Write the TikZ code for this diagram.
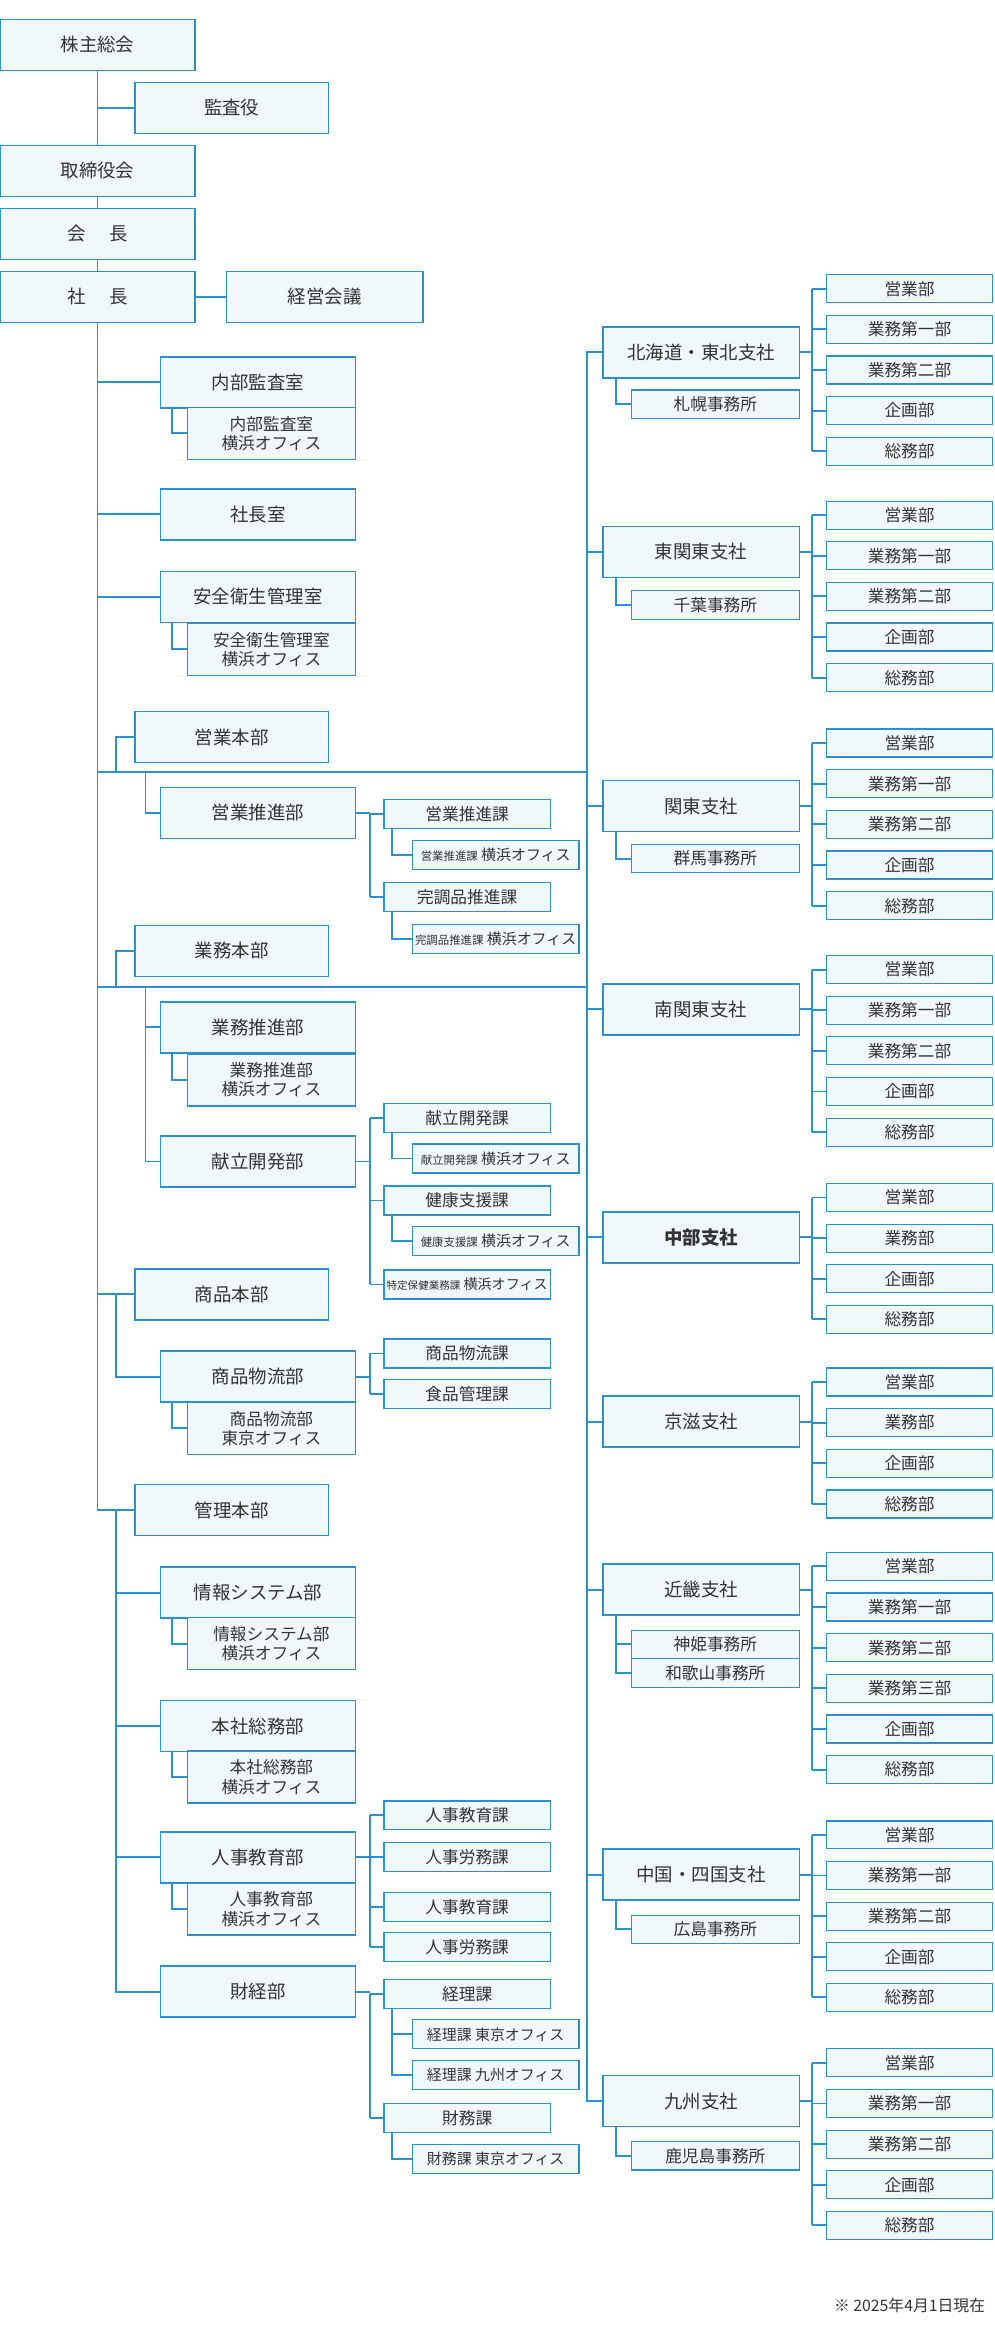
\documentclass[tikz,border=0pt]{standalone}
\usepackage{fontspec}
\setmainfont{Noto Sans CJK JP}
\definecolor{orgline}{HTML}{2B90D0}
\definecolor{orgfill}{HTML}{F1F8FC}
\definecolor{orgtext}{HTML}{333333}
\tikzset{
  box/.style={draw=orgline, fill=orgfill, line width=0.9pt, text=orgtext, inner sep=0pt, align=center, font=\fontsize{10.5}{12}\selectfont},
  top/.style={box, minimum width=3.9cm, minimum height=1.02cm},
  hq/.style={box, minimum width=3.87cm, minimum height=1.02cm},
  dep/.style={box, minimum width=3.9cm, minimum height=1.02cm},
  depsub/.style={box, minimum width=3.36cm, minimum height=1.04cm, font=\fontsize{9.5}{11}\selectfont},
  sect/.style={box, line width=0.7pt, minimum width=3.33cm, minimum height=0.58cm, font=\fontsize{9.5}{11}\selectfont},
  sectsub/.style={sect, font=\fontsize{8.5}{10}\selectfont},
  branch/.style={box, minimum width=3.93cm, minimum height=1.02cm},
  broffice/.style={box, line width=0.7pt, minimum width=3.36cm, minimum height=0.57cm, font=\fontsize{9.5}{11}\selectfont},
  dept/.style={box, line width=0.7pt, minimum width=3.33cm, minimum height=0.56cm, font=\fontsize{9.5}{11}\selectfont},
  conn/.style={draw=orgline, line width=1.1pt},
}
\newcommand{\smalltxt}{\fontsize{6.5}{8}\selectfont}
\newcommand{\deptlist}[4]{% branch name, first top, count, list
  \foreach \d [count=\i] in {#4} {
    \node[dept] (#1\i) at (606.5,{#2+9.5+(\i-1)*27.1}) {\d};
  }
  \draw[conn] (#1.east) -- ++(8,0) coordinate (#1j);
  \draw[conn] (#11.west -| #1j) -- (#1#3.west -| #1j);
  \foreach \i in {1,...,#3} {
    \draw[conn] (#1\i.west -| #1j) -- (#1\i.west);
  }
}
\begin{document}
\begin{tikzpicture}[x=0.03cm, y=-0.03cm]
\useasboundingbox (0,0) rectangle (663,1567);

% top of the company
\node[top] (kabu) at (65,30) {株主総会};
\node[hq] (kansa) at (154.5,72) {監査役};
\node[top] (torishimari) at (65,114) {取締役会};
\node[top] (kaicho) at (65,156) {会\hspace{1.3em}長};
\node[top] (shacho) at (65,198) {社\hspace{1.3em}長};
\node[branch] (keiei) at (216.5,198) {経営会議};
\draw[conn] (kabu) -- (torishimari);
\draw[conn] (kansa.west) -- (kansa.west -| kabu.south);
\draw[conn] (torishimari) -- (kaicho);
\draw[conn] (kaicho) -- (shacho);
\draw[conn] (shacho) -- (keiei);

% left side
\node[dep] (naibu) at (172,255) {内部監査室};
\node[depsub] (naibusub) at (181,289) {内部監査室\\横浜オフィス};
\node[dep] (shachoshitsu) at (172,343) {社長室};
\node[dep] (anzen) at (172,398) {安全衛生管理室};
\node[depsub] (anzensub) at (181,433) {安全衛生管理室\\横浜オフィス};
\node[hq] (eigyohq) at (154.5,491.5) {営業本部};
\node[dep] (eigyosuishin) at (172,542) {営業推進部};
\node[hq] (gyomuhq) at (154.5,634) {業務本部};
\node[dep] (gyomusuishin) at (172,685) {業務推進部};
\node[depsub] (gyomusub) at (181,720) {業務推進部\\横浜オフィス};
\node[dep] (kondate) at (172,774.5) {献立開発部};
\node[hq] (shohinhq) at (154.5,863) {商品本部};
\node[dep] (butsuryu) at (172,918) {商品物流部};
\node[depsub] (butsuryusub) at (181,952.5) {商品物流部\\東京オフィス};
\node[hq] (kanrihq) at (154.5,1007) {管理本部};
\node[dep] (joho) at (172,1062) {情報システム部};
\node[depsub] (johosub) at (181,1096) {情報システム部\\横浜オフィス};
\node[dep] (somu) at (172,1151) {本社総務部};
\node[depsub] (somusub) at (181,1185) {本社総務部\\横浜オフィス};
\node[dep] (jinji) at (172,1238.5) {人事教育部};
\node[depsub] (jinjisub) at (181,1273) {人事教育部\\横浜オフィス};
\node[dep] (zaikei) at (172,1328) {財経部};

\draw[conn] (shacho.south) -- (kanrihq.west -| shacho.south) -- (kanrihq.west);
\foreach \n in {naibu, shachoshitsu, anzen, shohinhq}
  \draw[conn] (\n.west) -- (\n.west -| shacho.south);
\foreach \p/\s in {naibu/naibusub, anzen/anzensub, gyomusuishin/gyomusub, butsuryu/butsuryusub, joho/johosub, somu/somusub, jinji/jinjisub}
  \draw[conn] (\p.south west) ++(8,0) |- (\s.west);

% sales and operations lines
\coordinate (hza) at (65,515);
\coordinate (hzb) at (65,658);
\draw[conn] (eigyohq.west) -- ++(-12,0) |- (hza);
\draw[conn] (gyomuhq.west) -- ++(-12,0) |- (hzb);
\draw[conn] (hza) ++(32,0) |- (eigyosuishin.west);
\draw[conn] (hzb) ++(32,0) |- (kondate.west);
\draw[conn] (gyomusuishin.west) -- ++(-10,0);
\draw[conn] (shohinhq.west) -- ++(-12,0) |- (butsuryu.west);
\draw[conn] (kanrihq.west) -- ++(-12,0) |- (zaikei.west);
\foreach \n in {joho, somu, jinji}
  \draw[conn] (\n.west) -- ++(-29,0);

% sections
\node[sect] (ka1) at (311.5,543) {営業推進課};
\node[sectsub] (ka1s) at (330.5,570) {{\smalltxt 営業推進課} 横浜オフィス};
\node[sect] (ka2) at (311.5,598) {完調品推進課};
\node[sectsub] (ka2s) at (330.5,626) {{\smalltxt 完調品推進課} 横浜オフィス};
\node[sect] (ka3) at (311.5,745.5) {献立開発課};
\node[sectsub] (ka3s) at (330.5,772.5) {{\smalltxt 献立開発課} 横浜オフィス};
\node[sect] (ka4) at (311.5,800.5) {健康支援課};
\node[sectsub] (ka4s) at (330.5,827.5) {{\smalltxt 健康支援課} 横浜オフィス};
\node[sect, font=\fontsize{8}{10}\selectfont] (ka5) at (311.5,856.5) {{\fontsize{6}{8}\selectfont 特定保健業務課} 横浜オフィス};
\node[sect] (ka6) at (311.5,902.5) {商品物流課};
\node[sect] (ka7) at (311.5,929.5) {食品管理課};
\node[sect] (ka8) at (311.5,1210.5) {人事教育課};
\node[sect] (ka9) at (311.5,1238.5) {人事労務課};
\node[sect] (ka10) at (311.5,1271.5) {人事教育課};
\node[sect] (ka11) at (311.5,1298.5) {人事労務課};
\node[sect] (ka12) at (311.5,1329.5) {経理課};
\node[sectsub] (ka12s) at (330.5,1356.5) {経理課 東京オフィス};
\node[sectsub] (ka12t) at (330.5,1383.5) {経理課 九州オフィス};
\node[sect] (ka13) at (311.5,1412.5) {財務課};
\node[sectsub] (ka13s) at (330.5,1439.5) {財務課 東京オフィス};

\draw[conn] (eigyosuishin.east) -- ++(9,0) coordinate (ja);
\draw[conn] (ka1.west -| ja) -- (ka2.west -| ja);
\draw[conn] (kondate.east) -- ++(9,0) coordinate (jb);
\draw[conn] (ka3.west -| jb) -- (ka5.west -| jb);
\draw[conn] (butsuryu.east) -- ++(9,0) coordinate (jc);
\draw[conn] (ka6.west -| jc) -- (ka7.west -| jc);
\draw[conn] (jinji.east) -- ++(9,0) coordinate (jd);
\draw[conn] (ka8.west -| jd) -- (ka11.west -| jd);
\draw[conn] (zaikei.east) -- ++(9,0) coordinate (je);
\draw[conn] (ka12.west -| je) -- (ka13.west -| je);
\foreach \k/\j in {ka1/ja, ka2/ja, ka3/jb, ka4/jb, ka5/jb, ka6/jc, ka7/jc, ka8/jd, ka9/jd, ka10/jd, ka11/jd, ka12/je, ka13/je}
  \draw[conn] (\k.west -| \j) -- (\k.west);
\foreach \p/\s in {ka1/ka1s, ka2/ka2s, ka3/ka3s, ka4/ka4s, ka12/ka12t, ka13/ka13s}
  \draw[conn] (\p.south west) ++(6,0) |- (\s.west);
\draw[conn] (ka12s.west) -- ++(-13,0);

% branches
\node[branch] (hokkaido) at (467.5,235) {北海道・東北支社};
\node[broffice] (sapporo) at (477,269.5) {札幌事務所};
\node[branch] (higashikanto) at (467.5,368) {東関東支社};
\node[broffice] (chiba) at (477,403.5) {千葉事務所};
\node[branch] (kanto) at (467.5,537.5) {関東支社};
\node[broffice] (gunma) at (477,572.5) {群馬事務所};
\node[branch] (minamikanto) at (467.5,673) {南関東支社};
\node[branch, font=\fontsize{10.5}{12}\selectfont\bfseries] (chubu) at (467.5,825) {中部支社};
\node[branch] (keiji) at (467.5,948) {京滋支社};
\node[branch] (kinki) at (467.5,1060) {近畿支社};
\node[broffice] (shinki) at (477,1096.5) {神姫事務所};
\node[broffice] (wakayama) at (477,1115.5) {和歌山事務所};
\node[branch] (chugoku) at (467.5,1250) {中国・四国支社};
\node[broffice] (hiroshima) at (477,1286.5) {広島事務所};
\node[branch] (kyushu) at (467.5,1401) {九州支社};
\node[broffice] (kagoshima) at (477,1437.5) {鹿児島事務所};

\draw[conn] (hokkaido.west) -- ++(-10,0) coordinate (rt) -- (rt |- kyushu.west) -- (kyushu.west);
\foreach \n in {higashikanto, kanto, minamikanto, chubu, keiji, kinki, chugoku}
  \draw[conn] (\n.west) -- (\n.west -| rt);
\draw[conn] (hza) -- (hza -| rt);
\draw[conn] (hzb) -- (hzb -| rt);
\foreach \p/\s in {hokkaido/sapporo, higashikanto/chiba, kanto/gunma, kinki/shinki, kinki/wakayama, chugoku/hiroshima, kyushu/kagoshima}
  \draw[conn] (\p.south west) ++(9,0) |- (\s.west);

\deptlist{hokkaido}{183}{5}{営業部, 業務第一部, 業務第二部, 企画部, 総務部}
\deptlist{higashikanto}{334}{5}{営業部, 業務第一部, 業務第二部, 企画部, 総務部}
\deptlist{kanto}{486}{5}{営業部, 業務第一部, 業務第二部, 企画部, 総務部}
\deptlist{minamikanto}{637}{5}{営業部, 業務第一部, 業務第二部, 企画部, 総務部}
\deptlist{chubu}{789}{4}{営業部, 業務部, 企画部, 総務部}
\deptlist{keiji}{912}{4}{営業部, 業務部, 企画部, 総務部}
\deptlist{kinki}{1035}{6}{営業部, 業務第一部, 業務第二部, 業務第三部, 企画部, 総務部}
\deptlist{chugoku}{1214}{5}{営業部, 業務第一部, 業務第二部, 企画部, 総務部}
\deptlist{kyushu}{1366}{5}{営業部, 業務第一部, 業務第二部, 企画部, 総務部}

\node[anchor=east, text=orgtext, font=\fontsize{9}{10}\selectfont] (asof) at (661,1537) {※ 2025年4月1日現在};
\end{tikzpicture}
\end{document}
